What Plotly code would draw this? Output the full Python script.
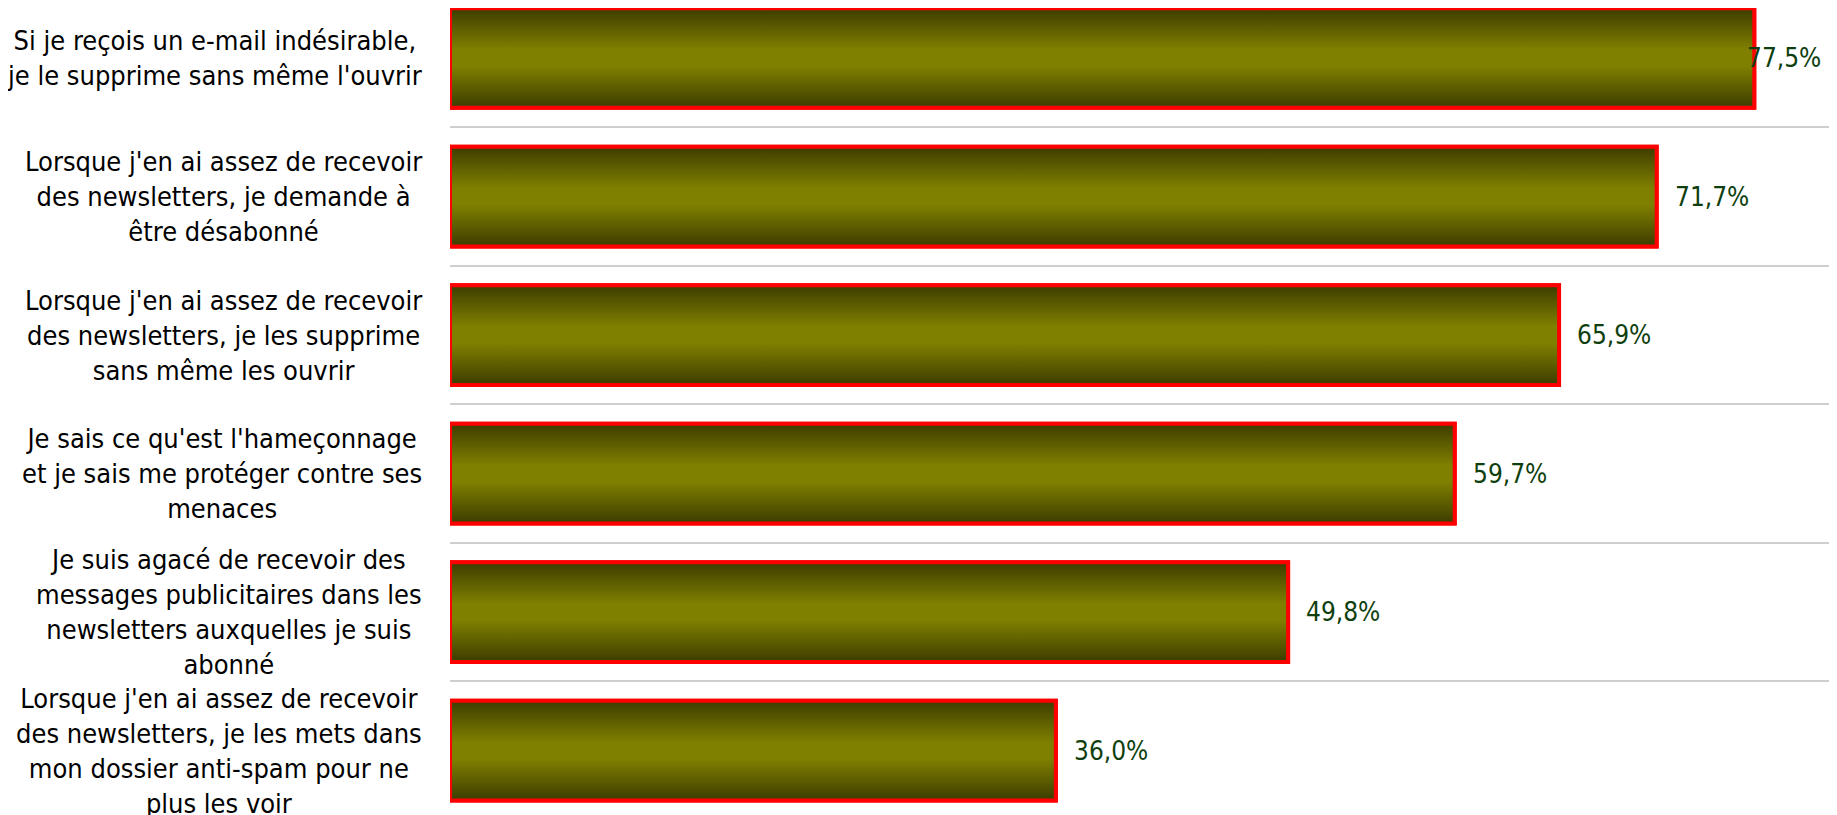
import plotly.graph_objects as go

# ---- data ----
categories = [
    "Si je reçois un e-mail indésirable,<br>je le supprime sans même l'ouvrir",
    "Lorsque j'en ai assez de recevoir<br>des newsletters, je demande à<br>être désabonné",
    "Lorsque j'en ai assez de recevoir<br>des newsletters, je les supprime<br>sans même les ouvrir",
    "Je sais ce qu'est l'hameçonnage<br>et je sais me protéger contre ses<br>menaces",
    "Je suis agacé de recevoir des<br>messages publicitaires dans les<br>newsletters auxquelles je suis<br>abonné",
    "Lorsque j'en ai assez de recevoir<br>des newsletters, je les mets dans<br>mon dossier anti-spam pour ne<br>plus les voir",
]
values = [77.5, 71.7, 65.9, 59.7, 49.8, 36.0]
value_labels = ["77,5%", "71,7%", "65,9%", "59,7%", "49,8%", "36,0%"]

# ---- style ----
W, H = 1837, 815
OFF = 8  # default page body margin
FONT = "DejaVu Sans Condensed, DejaVu Sans, sans-serif"
FS_CAT = 27
FS_VAL = 26
X_MAX = 82.0
BAR_W = 0.72
ML, MR = 450 - OFF, 7
PLOT_W = (W - OFF) - ML - MR
PX_PER_UNIT = PLOT_W / X_MAX
Y_RANGE = [5.465, -0.361]
GRAD = [[0, "#3c3c00"], [0.42, "#808000"], [0.58, "#808000"], [1, "#3c3c00"]]

n = len(categories)
ypos = list(range(n))

fig = go.Figure()
fig.add_trace(go.Bar(
    x=values, y=ypos, orientation="h", width=BAR_W,
    marker=dict(color="#808000", line=dict(color="#ff0000", width=4)),
    hoverinfo="x", showlegend=False,
))

# gradient overlay per bar (same geometry as the bar)
for i, v in enumerate(values):
    y0, y1 = i - BAR_W / 2, i + BAR_W / 2
    fig.add_trace(go.Scatter(
        x=[0, v, v, 0, 0], y=[y0, y0, y1, y1, y0],
        mode="lines", fill="toself",
        fillgradient=dict(type="vertical", colorscale=GRAD),
        line=dict(color="#ff0000", width=4),
        hoverinfo="skip", showlegend=False,
    ))

annotations = []
for i, c in enumerate(categories):
    annotations.append(dict(
        text=c, xref="paper", x=0, yref="y", y=i,
        xanchor="right", yanchor="middle", align="center", xshift=-26,
        showarrow=False, font=dict(family=FONT, size=FS_CAT, color="#000000"),
    ))

GAP_PX = 18
LABEL_PX = 76
for i, (v, t) in enumerate(zip(values, value_labels)):
    fits = v * PX_PER_UNIT + GAP_PX + LABEL_PX <= PLOT_W - 8
    if fits:
        annotations.append(dict(
            text=t, xref="x", x=v, yref="y", y=i, xanchor="left", yanchor="middle",
            xshift=GAP_PX - 2, showarrow=False,
            font=dict(family=FONT, size=FS_VAL, color="#0f3f0f"),
        ))
    else:
        annotations.append(dict(
            text=t, xref="paper", x=1, yref="y", y=i, xanchor="right", yanchor="middle",
            xshift=-7, showarrow=False,
            font=dict(family=FONT, size=FS_VAL, color="#0f3f0f"),
        ))

fig.update_layout(
    width=W - OFF, height=H - OFF,
    margin=dict(l=ML, r=MR, t=0, b=0, pad=0),
    paper_bgcolor="#ffffff", plot_bgcolor="#ffffff",
    showlegend=False,
    xaxis=dict(range=[0, X_MAX], showgrid=False, zeroline=False, showticklabels=False,
               showline=False, ticks=""),
    yaxis=dict(range=Y_RANGE, tickmode="array",
               tickvals=[i + 0.5 for i in range(n - 1)],
               showticklabels=False, showgrid=True, gridcolor="#cfcfcf", gridwidth=2,
               zeroline=False, showline=False, ticks=""),
    annotations=annotations,
    font=dict(family=FONT, size=FS_VAL),
)

fig.write_html("out.html")
